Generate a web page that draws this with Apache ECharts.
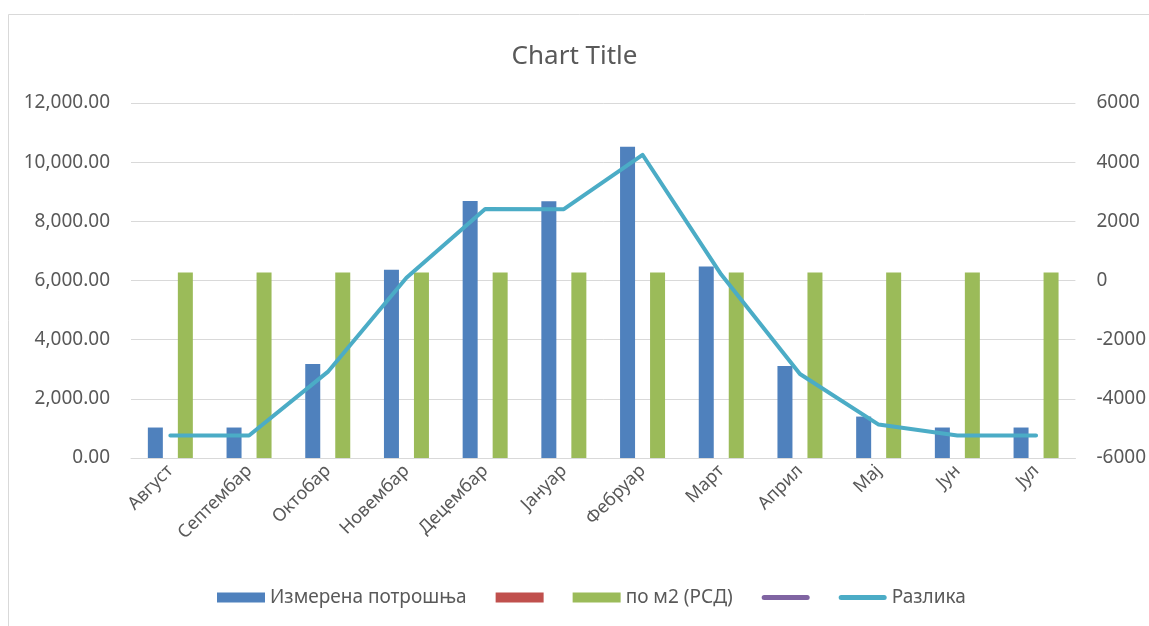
<!DOCTYPE html>
<html>
<head>
<meta charset="utf-8">
<script src="https://cdn.jsdelivr.net/npm/echarts@6/dist/echarts.min.js"></script>
<style>
html,body{margin:0;padding:0;background:#fff;}
#chart{width:1149px;height:626px;}
</style>
</head>
<body>
<div id="chart"></div>
<script>
const categories = ['Август','Септембар','Октобар','Новембар','Децембар','Јануар','Фебруар','Март','Април','Мај','Јун','Јул'];
const measured = [1030, 1030, 3180, 6360, 8690, 8680, 10520, 6470, 3110, 1400, 1030, 1030];
const redSeries = [null, null, null, null, null, null, null, null, null, null, null, null];
const perM2 = [6270, 6270, 6270, 6270, 6270, 6270, 6270, 6270, 6270, 6270, 6270, 6270];
const purpleSeries = [null, null, null, null, null, null, null, null, null, null, null, null];
const difference = [-5240, -5240, -3090, 90, 2420, 2410, 4250, 200, -3160, -4870, -5240, -5240];
const seriesNames = ['Измерена потрошња', ' ', 'по м2 (РСД)', '  ', 'Разлика'];

const FONT = '"Noto Sans", "Open Sans", sans-serif';
const chart = echarts.init(document.getElementById('chart'), null, {renderer: 'canvas'});
const fmtLeft = v => v.toLocaleString('en-US', {minimumFractionDigits: 2, maximumFractionDigits: 2});
const lineIcon = 'path://M2.5,0 L45.5,0 A2.5,2.5 0 0 1 45.5,5 L2.5,5 A2.5,2.5 0 0 1 2.5,0 Z';

chart.setOption({
  animation: false,
  backgroundColor: '#ffffff',
  graphic: [{
    type: 'rect', z: -10, silent: true,
    shape: {x: 8.5, y: 14.5, width: 1300, height: 800},
    style: {fill: 'none', stroke: '#d9d9d9', lineWidth: 1}
  }],
  title: {
    text: 'Chart Title', left: 'center', top: 39,
    textStyle: {fontFamily: FONT, fontSize: 26, fontWeight: 'normal', color: '#595959'}
  },
  legend: {
    bottom: 14, left: 212, itemGap: 29, itemWidth: 48, itemHeight: 10,
    textStyle: {fontFamily: FONT, fontSize: 19, color: '#595959'},
    formatter: n => n.trim() === '' ? '' : n,
    data: [
      {name: seriesNames[0], icon: 'rect'},
      {name: seriesNames[1], icon: 'rect'},
      {name: seriesNames[2], icon: 'rect'},
      {name: seriesNames[3], icon: lineIcon, itemStyle: {color: '#8064a2'}},
      {name: seriesNames[4], icon: lineIcon, itemStyle: {color: '#4bacc6'}}
    ]
  },
  grid: {left: 131, right: 73, top: 103, bottom: 168},
  xAxis: {
    type: 'category', data: categories,
    axisTick: {show: false},
    axisLine: {lineStyle: {color: '#d9d9d9', width: 1}},
    axisLabel: {rotate: 45, fontFamily: FONT, fontSize: 18, color: '#595959', margin: 10, interval: 0}
  },
  yAxis: [{
    type: 'value', min: 0, max: 12000, interval: 2000,
    axisLine: {show: false}, axisTick: {show: false},
    splitLine: {lineStyle: {color: '#d9d9d9', width: 1}},
    axisLabel: {fontFamily: FONT, fontSize: 19, color: '#595959', margin: 21, formatter: fmtLeft}
  }, {
    type: 'value', min: -6000, max: 6000, interval: 2000,
    axisLine: {show: false}, axisTick: {show: false},
    splitLine: {show: false},
    axisLabel: {fontFamily: FONT, fontSize: 19, color: '#595959', margin: 21, formatter: v => String(v)}
  }],
  series: [
    {name: seriesNames[0], type: 'bar', data: measured, barWidth: 15, barGap: '0%', itemStyle: {color: '#4f81bd'}},
    {name: seriesNames[1], type: 'bar', data: redSeries, barWidth: 15, barGap: '0%', itemStyle: {color: '#c0504d'}},
    {name: seriesNames[2], type: 'bar', data: perM2, barWidth: 15, barGap: '0%', itemStyle: {color: '#9bbb59'}},
    {name: seriesNames[3], type: 'line', yAxisIndex: 1, data: purpleSeries, symbol: 'none',
     lineStyle: {color: '#8064a2', width: 4, cap: 'round'}, itemStyle: {color: '#8064a2'}},
    {name: seriesNames[4], type: 'line', yAxisIndex: 1, data: difference, symbol: 'none',
     lineStyle: {color: '#4bacc6', width: 4, cap: 'round', join: 'round'}, itemStyle: {color: '#4bacc6'}, z: 5}
  ]
});
</script>
</body>
</html>
